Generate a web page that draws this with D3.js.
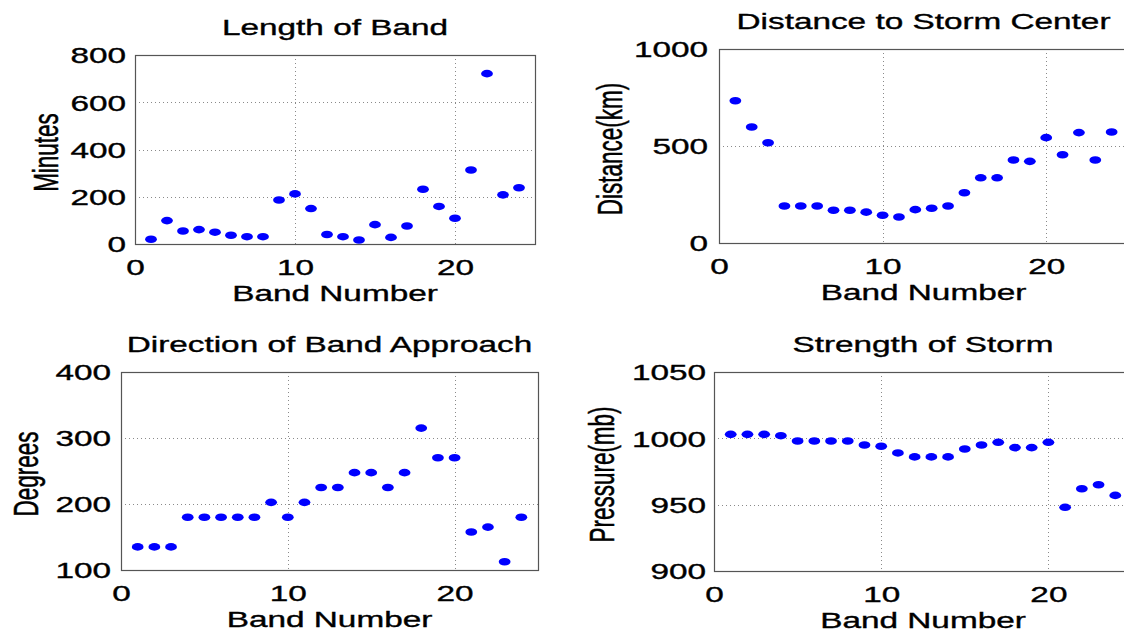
<!DOCTYPE html>
<html>
<head>
<meta charset="utf-8">
<script src="https://cdn.jsdelivr.net/npm/d3@7"></script>
<style>
  html, body { margin: 0; padding: 0; background: #fff; overflow: hidden; }
  svg { display: block; }
  text { font-family: "Liberation Sans", Arial, Helvetica, sans-serif; fill: #000; stroke: #000; stroke-width: 0.35px; }
</style>
</head>
<body>
<svg id="fig" width="1124" height="634"></svg>
<script>
// Band numbers 1..24
const bandNumber = d3.range(1, 25);

// Length of band (minutes)
const bandLength = [20, 99, 55, 61, 50, 37, 31, 31, 186, 212, 150, 40,
                    31, 17, 82, 28, 76, 232, 159, 109, 313, 721, 208, 238];

// Distance to storm center (km)
const stormDistance = [733, 598, 517, 191, 191, 191, 169, 169, 159, 143, 134, 172,
                       179, 191, 259, 336, 336, 428, 421, 543, 455, 569, 428, 572];

// Direction of band approach (degrees)
const approachDirection = [135, 135, 135, 180, 180, 180, 180, 180, 202.5, 180, 202.5, 225,
                           225, 247.5, 247.5, 225, 247.5, 315, 270, 270, 157.5, 165, 112.5, 180];

// Central pressure of the storm (mb)
const stormPressure = [1003, 1003, 1003, 1002, 998, 998, 998, 998, 995, 994, 989, 986,
                       986, 986, 992, 995, 997, 993, 993, 997, 948, 962, 965, 957];

// Tick values
const xTicks = [0, 10, 20];
const lengthTicks = [0, 200, 400, 600, 800];
const distanceTicks = [0, 500, 1000];
const directionTicks = [100, 200, 300, 400];
const pressureTicks = [900, 950, 1000, 1050];

// Horizontal stretch applied to glyphs and markers
const SX = 1.55;
const FONT = 21.5;
const fmt = d3.format("d");

const svg = d3.select("#fig");

function panel(cfg) {
  const x = d3.scaleLinear().domain([0, 25]).range([cfg.left, cfg.right]);
  const y = d3.scaleLinear().domain(cfg.yDomain).range([cfg.bottom, cfg.top]);
  const g = svg.append("g");

  // dotted grid at interior ticks
  const xi = xTicks.filter(v => v > 0 && v < 25);
  const yi = cfg.yTicks.filter(v => v > cfg.yDomain[0] && v < cfg.yDomain[1]);
  g.selectAll("line.gx").data(xi).join("line")
    .attr("x1", d => Math.round(x(d)) + 0.5).attr("x2", d => Math.round(x(d)) + 0.5)
    .attr("y1", cfg.top).attr("y2", cfg.bottom)
    .attr("stroke", "#8a8a8a").attr("stroke-width", 1).attr("stroke-dasharray", "1,3");
  g.selectAll("line.gy").data(yi).join("line")
    .attr("y1", d => Math.round(y(d)) + 0.5).attr("y2", d => Math.round(y(d)) + 0.5)
    .attr("x1", cfg.left).attr("x2", cfg.right)
    .attr("stroke", "#8a8a8a").attr("stroke-width", 1).attr("stroke-dasharray", "1,3");

  // axes box
  g.append("rect")
    .attr("x", cfg.left + 0.5).attr("y", cfg.top + 0.5)
    .attr("width", cfg.right - cfg.left).attr("height", cfg.bottom - cfg.top)
    .attr("fill", "none").attr("stroke", "#555").attr("stroke-width", 1.2);

  // x axis labels
  const xa = g.append("g").attr("transform", `translate(0,${cfg.bottom})`)
    .call(d3.axisBottom(x).tickValues(xTicks).tickFormat(fmt).tickSize(0).tickPadding(0));
  xa.select(".domain").remove();
  xa.selectAll("text")
    .attr("y", 0).attr("dy", null)
    .attr("transform", `translate(0,31) scale(${SX},1)`)
    .attr("font-size", FONT).attr("font-family", null).attr("fill", "#000");

  // y axis labels
  const ya = g.append("g").attr("transform", `translate(${cfg.left},0)`)
    .call(d3.axisLeft(y).tickValues(cfg.yTicks).tickFormat(fmt).tickSize(0).tickPadding(0));
  ya.select(".domain").remove();
  ya.selectAll("text")
    .attr("x", 0).attr("dy", "0.36em")
    .attr("transform", `translate(${-cfg.yGap},0) scale(${SX},1)`)
    .attr("font-size", FONT).attr("font-family", null).attr("fill", "#000");

  // markers
  g.selectAll("ellipse").data(cfg.values).join("ellipse")
    .attr("cx", (d, i) => x(bandNumber[i]))
    .attr("cy", d => y(d))
    .attr("rx", 3.8 * SX).attr("ry", 3.8)
    .attr("fill", "#0000ff");

  const cx = (cfg.left + cfg.right) / 2;
  // title
  g.append("text")
    .attr("transform", `translate(${cx},${cfg.top - 20}) scale(${SX},1)`)
    .attr("text-anchor", "middle").attr("font-size", FONT)
    .text(cfg.title);
  // x label
  g.append("text")
    .attr("transform", `translate(${cx},${cfg.bottom + 57}) scale(${SX},1)`)
    .attr("text-anchor", "middle").attr("font-size", FONT)
    .text("Band Number");
  // y label
  g.append("text")
    .attr("transform", `translate(${cfg.ylabX},${(cfg.top + cfg.bottom) / 2 + 3}) scale(${SX},1) rotate(-90)`)
    .attr("text-anchor", "middle").attr("dy", "0.36em").attr("font-size", 22.5)
    .text(cfg.ylabel);
}

panel({ left: 135, right: 535, top: 55, bottom: 244, yDomain: [0, 800], yTicks: lengthTicks,
        values: bandLength, title: "Length of Band", ylabel: "Minutes", ylabX: 45, yGap: 9 });
panel({ left: 719, right: 1128, top: 49, bottom: 243, yDomain: [0, 1000], yTicks: distanceTicks,
        values: stormDistance, title: "Distance to Storm Center", ylabel: "Distance(km)", ylabX: 609, yGap: 11 });
panel({ left: 121, right: 538, top: 372, bottom: 570, yDomain: [100, 400], yTicks: directionTicks,
        values: approachDirection, title: "Direction of Band Approach", ylabel: "Degrees", ylabX: 25, yGap: 10 });
panel({ left: 714, right: 1132, top: 372, bottom: 571, yDomain: [900, 1050], yTicks: pressureTicks,
        values: stormPressure, title: "Strength of Storm", ylabel: "Pressure(mb)", ylabX: 601, yGap: 8 });
</script>
</body>
</html>
